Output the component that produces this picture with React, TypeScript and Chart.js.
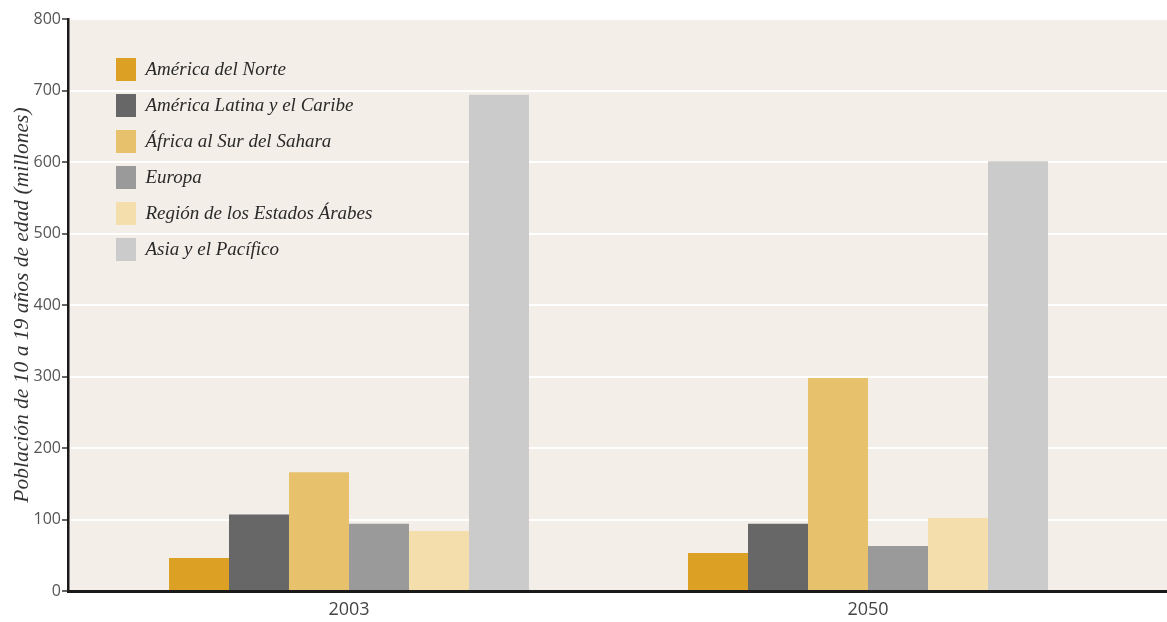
import React, { useEffect, useRef } from "react";
import { Chart, registerables } from "chart.js";

Chart.register(...registerables);

const categories = ["2003", "2050"];
const seriesNames = [
  "América del Norte",
  "América Latina y el Caribe",
  "África al Sur del Sahara",
  "Europa",
  "Región de los Estados Árabes",
  "Asia y el Pacífico",
];
const americaNorte = [46, 53];
const americaLatina = [107, 94];
const africaSur = [166, 298];
const europa = [94, 63];
const estadosArabes = [84, 102];
const asiaPacifico = [694, 601];
const seriesColors = ["#DBA024", "#676767", "#E8C16D", "#9A9A9A", "#F4DEAB", "#CBCBCB"];
const yTicks = [0, 100, 200, 300, 400, 500, 600, 700, 800];
const yTitle = "Población de 10 a 19 años de edad (millones)";

export default function App() {
  const canvasRef = useRef<HTMLCanvasElement | null>(null);

  useEffect(() => {
    const canvas = canvasRef.current;
    if (!canvas) return;
    const values = [americaNorte, americaLatina, africaSur, europa, estadosArabes, asiaPacifico];

    const bgPlugin = {
      id: "plotBg",
      beforeDraw(chart: any) {
        const { ctx, chartArea } = chart;
        ctx.save();
        ctx.fillStyle = "#F3EEE8";
        ctx.fillRect(chartArea.left, chartArea.top, chartArea.right - chartArea.left, chartArea.bottom - chartArea.top);
        ctx.restore();
      },
    };
    const legendPos = {
      id: "legendPos",
      afterLayout(chart: any) {
        const lg = chart.legend;
        const ca = chart.chartArea;
        if (!lg) return;
        lg.left = ca.left + 35;
        lg.top = ca.top + 26;
        lg.right = ca.right;
        lg.bottom = ca.bottom;
      },
    };

    const chart = new Chart(canvas, {
      type: "bar",
      data: {
        labels: categories.map((_, i) => i),
        datasets: seriesNames.map((name, i) => ({
          label: name,
          data: values[i],
          backgroundColor: seriesColors[i],
          borderWidth: 0,
          barPercentage: 1,
          categoryPercentage: 0.6936,
        })),
      },
      options: {
        responsive: false,
        animation: false,
        layout: { padding: { top: 19, left: 0, right: 0, bottom: 0 } },
        scales: {
          x: {
            type: "linear",
            offset: false,
            min: -0.5414,
            max: 1.5761,
            grid: { display: false, drawTicks: false },
            border: { display: true, color: "#1a1a1a", width: 3 },
            ticks: {
              stepSize: 1,
              includeBounds: false,
              padding: 8,
              color: "#444",
              font: { family: "'Open Sans', sans-serif", size: 18 },
              callback: (v: any) => (Number.isInteger(v) && categories[v] !== undefined ? categories[v] : ""),
            },
            afterFit: (s: any) => {
              s.height = 31;
            },
          },
          y: {
            min: 0,
            max: 800,
            afterBuildTicks: (s: any) => {
              s.ticks = yTicks.map((v) => ({ value: v }));
            },
            grid: {
              color: "#FFFFFF",
              lineWidth: 2,
              drawTicks: true,
              tickLength: 6,
              tickColor: "#333",
              tickWidth: 1.5,
            },
            border: { display: true, color: "#1a1a1a", width: 2.5 },
            ticks: {
              padding: 1,
              color: "#555",
              font: { family: "'Open Sans', sans-serif", size: 16 },
            },
            title: {
              display: true,
              text: yTitle,
              color: "#333",
              padding: { top: 9, bottom: 0 },
              font: { family: "'Liberation Serif', serif", size: 21.5, style: "italic" },
            },
            afterFit: (s: any) => {
              s.width = 68;
            },
          },
        },
        plugins: {
          legend: {
            position: "chartArea" as any,
            align: "start",
            labels: {
              boxWidth: 20,
              boxHeight: 23,
              padding: 13,
              color: "#2a2a2a",
              font: { family: "'Liberation Serif', serif", size: 19, style: "italic" },
            },
          },
          tooltip: { enabled: false },
        },
      },
      plugins: [bgPlugin, legendPos],
    });
    return () => chart.destroy();
  }, []);

  return (
    <div style={{ position: "fixed", left: 0, top: 0, width: 1167, height: 622, background: "#fff" }}>
      <canvas ref={canvasRef} width={1167} height={622} />
    </div>
  );
}
